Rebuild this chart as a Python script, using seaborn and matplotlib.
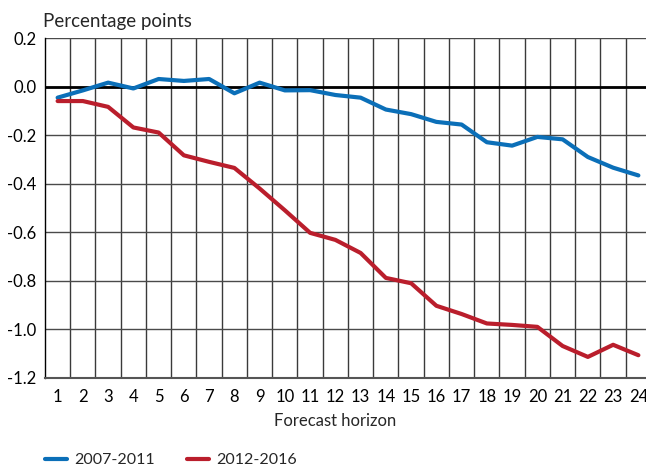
import pandas as pd
import numpy as np
import matplotlib
matplotlib.use('Agg')
import matplotlib.pyplot as plt
import seaborn as sns

# Data
horizon = list(range(1, 25))
early = [-0.045, -0.015, 0.017, -0.007, 0.032, 0.024, 0.032, -0.027, 0.017, -0.015,
         -0.014, -0.034, -0.045, -0.094, -0.113, -0.145, -0.156, -0.229, -0.243, -0.207,
         -0.217, -0.290, -0.334, -0.366]
late = [-0.059, -0.059, -0.083, -0.168, -0.189, -0.283, -0.310, -0.335, -0.420, -0.510,
        -0.603, -0.632, -0.686, -0.789, -0.811, -0.904, -0.938, -0.977, -0.983, -0.991,
        -1.070, -1.115, -1.065, -1.108]
periods = ['2007-2011', '2012-2016']
colors = ['#0B6FB8', '#BA1E2C']
yticks = [0.2, 0.0, -0.2, -0.4, -0.6, -0.8, -1.0, -1.2]

df = pd.DataFrame({
    'horizon': horizon * 2,
    'value': early + late,
    'period': [periods[0]] * len(horizon) + [periods[1]] * len(horizon),
})

sns.set_style('white')
plt.rcParams['font.family'] = ['Lato', 'DejaVu Sans']
plt.rcParams['axes.unicode_minus'] = False

fig = plt.figure(figsize=(6.46, 4.68), dpi=100)
# plot area runs a little past the right edge, as in the reference
ax = fig.add_axes([45 / 646, 1 - 377.5 / 468, 606 / 646, 339.2 / 468])

# grid first so the lines sit under the data
for b in np.arange(1.5, 24, 1.0):
    ax.axvline(b, color='#3a3a3a', lw=1.0, zorder=1)
for t in yticks:
    ax.axhline(t, color='#4a4a4a', lw=1.0, zorder=1)
ax.axhline(0, color='black', lw=2.0, zorder=2)

sns.lineplot(data=df, x='horizon', y='value', hue='period', palette=colors,
             linewidth=3.0, ax=ax, legend=False, zorder=3)

ax.set_xlim(0.5, 24.5)
ax.set_ylim(-1.2, 0.2)
ax.set_xticks(horizon)
ax.set_xticklabels([str(h) for h in horizon])
ax.set_yticks(yticks)
ax.set_yticklabels([f'{t:.1f}' for t in yticks])
ax.tick_params(axis='both', length=0, labelsize=12, colors='black')
ax.tick_params(axis='x', pad=8)
ax.tick_params(axis='y', pad=6)
ax.set_xlabel('')
ax.set_ylabel('')

for s in ['top', 'right']:
    ax.spines[s].set_visible(False)
ax.spines['left'].set_color('black')
ax.spines['left'].set_linewidth(1.0)
ax.spines['bottom'].set_color('#555555')
ax.spines['bottom'].set_linewidth(1.5)

fig.text(43 / 646, 1 - 27 / 468, 'Percentage points', fontsize=13.5, ha='left', va='baseline')
fig.text(335 / 646, 1 - 426 / 468, 'Forecast horizon', fontsize=12, ha='center', va='baseline')

handles = [plt.Line2D([], [], color=c, lw=3.0) for c in colors]
fig.legend(handles, periods, loc='center left', bbox_to_anchor=(45 / 646, 1 - 460 / 468),
           ncol=2, frameon=False, fontsize=11.5, handlelength=1.4, handletextpad=0.45,
           columnspacing=2.0, borderaxespad=0, borderpad=0)

fig.savefig('out.png', dpi=100)
